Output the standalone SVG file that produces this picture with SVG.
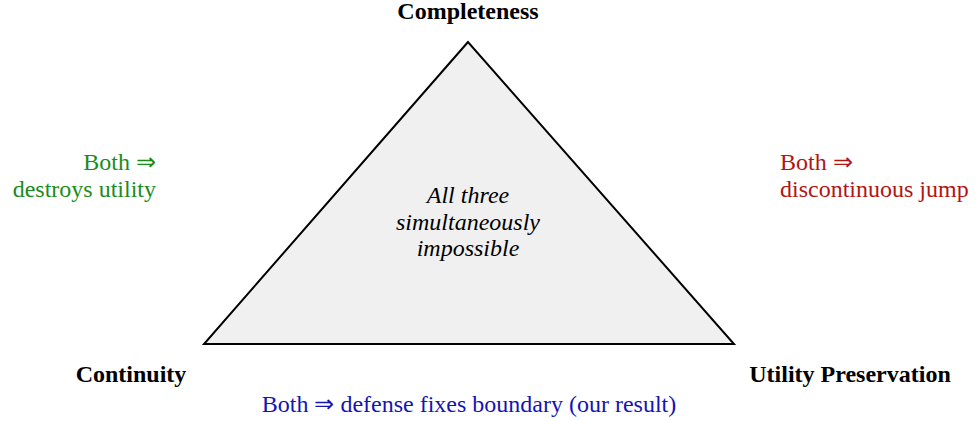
<svg xmlns="http://www.w3.org/2000/svg" width="976" height="421" viewBox="0 0 976 421">
<style>
.t{font-family:"Liberation Serif",serif;font-size:24px}
</style>
<rect width="976" height="421" fill="#fff"/>
<g id="triangle">
<polygon points="468,42 204,344 734,344" fill="#f0f0f0" stroke="#000" stroke-width="2" stroke-linejoin="miter"/>
<text font-family="Liberation Serif" font-size="24" font-style="italic" fill="#000" x="468" y="203" text-anchor="middle">All three</text>
<text font-family="Liberation Serif" font-size="24" font-style="italic" fill="#000" x="468" y="230" text-anchor="middle">simultaneously</text>
<text font-family="Liberation Serif" font-size="24" font-style="italic" fill="#000" x="468" y="256" text-anchor="middle">impossible</text>
</g>
<g id="completeness"><text font-family="Liberation Serif" font-size="24" font-weight="bold" x="468" y="19" text-anchor="middle">Completeness</text></g>
<g id="continuity"><text font-family="Liberation Serif" font-size="24" font-weight="bold" x="131" y="382" text-anchor="middle">Continuity</text></g>
<g id="utility"><text font-family="Liberation Serif" font-size="24" font-weight="bold" x="850" y="382" text-anchor="middle">Utility Preservation</text></g>
<g id="left-note" fill="#1a8c1a">
<text font-family="Liberation Serif" font-size="24" x="156" y="170" text-anchor="end">Both ⇒</text>
<text font-family="Liberation Serif" font-size="24" x="156" y="197" text-anchor="end">destroys utility</text>
</g>
<g id="right-note" fill="#b31414">
<text font-family="Liberation Serif" font-size="24" x="780" y="170">Both ⇒</text>
<text font-family="Liberation Serif" font-size="24" x="780" y="197">discontinuous jump</text>
</g>
<g id="bottom-note" fill="#1414b3">
<text font-family="Liberation Serif" font-size="24" x="469" y="412" text-anchor="middle">Both ⇒ defense fixes boundary (our result)</text>
</g>
</svg>
